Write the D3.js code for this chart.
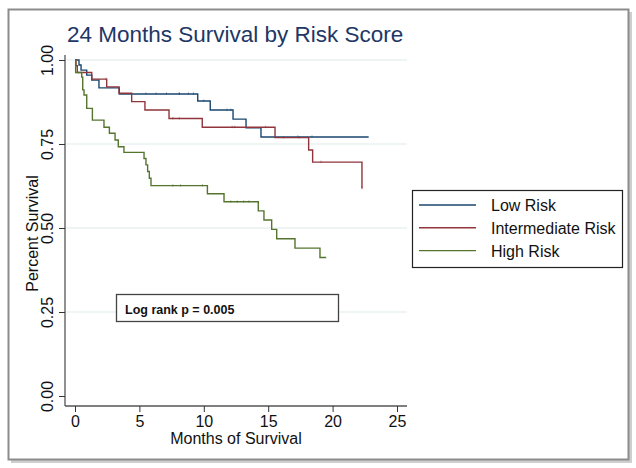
<!DOCTYPE html>
<html>
<head>
<meta charset="utf-8">
<script src="https://cdn.jsdelivr.net/npm/d3@7"></script>
<style>
  html, body { margin: 0; padding: 0; background: #fff; }
  svg { display: block; }
  text { font-family: "Liberation Sans", Arial, Helvetica, sans-serif; }
</style>
</head>
<body>
<div id="viz"></div>
<script>
// Kaplan-Meier step values
const lowTimes = [0, 0.31, 0.47, 0.91, 1.30, 1.86, 3.44, 9.53, 10.5, 12.27, 13.28, 14.44, 22.8];
const lowSurv  = [1.0, 0.985, 0.97, 0.955, 0.94, 0.917, 0.899, 0.878, 0.851, 0.824, 0.798, 0.771, 0.771];
const lowCens  = [5.5, 6.3, 7.1, 8.1, 8.8, 8.1, 9.2, 10.0, 11.8, 12.1, 17.3, 18.4];

const midTimes = [0, 0.08, 0.18, 1.30, 2.46, 3.42, 4.40, 5.43, 7.30, 9.88, 15.53, 18.14, 18.45, 22.28];
const midSurv  = [1.0, 0.983, 0.963, 0.943, 0.920, 0.901, 0.876, 0.851, 0.826, 0.800, 0.769, 0.732, 0.696, 0.618];
const midCens  = [2.4, 7.6, 8.1, 12.2, 12.4, 14.8, 16.2, 17.4, 19.1, 22.28];

const highTimes = [0, 0.05, 0.52, 0.60, 0.70, 0.91, 1.35, 2.25, 2.67, 3.11, 3.36, 3.80, 5.36, 5.51, 5.64, 5.77, 5.90, 10.28, 11.57, 14.23, 14.67, 15.27, 15.66, 17.08, 19.02, 19.5];
const highSurv  = [1.0, 0.963, 0.949, 0.911, 0.896, 0.856, 0.821, 0.800, 0.782, 0.762, 0.742, 0.725, 0.707, 0.688, 0.668, 0.648, 0.626, 0.602, 0.578, 0.551, 0.524, 0.496, 0.468, 0.440, 0.412, 0.412];
const highCens  = [7.6, 8.2, 9.9, 12.1, 12.6, 13.1, 13.5];

const seriesNames = ["Low Risk", "Intermediate Risk", "High Risk"];
const seriesColors = ["#1a476f", "#90353b", "#55752f"];

const xTicks = [0, 5, 10, 15, 20, 25];
const yTicks = [0, 0.25, 0.5, 0.75, 1.0];

const W = 636, H = 468;

const svg = d3.select('#viz').append('svg')
  .attr('width', W)
  .attr('height', H);

// outer frame with shadow
svg.append('rect').attr('x', 11).attr('y', 12).attr('width', 621).attr('height', 451).attr('fill', '#cfcfcf');
svg.append('rect').attr('x', 8.5).attr('y', 9.5).attr('width', 620).attr('height', 450)
  .attr('fill', '#fff').attr('stroke', '#8c8c8c').attr('stroke-width', 2);

const x = d3.scaleLinear().domain([0, 25]).range([75, 397]);
const y = d3.scaleLinear().domain([0, 1]).range([396, 60]);

const plotLeft = 65, plotRight = 407, plotBottom = 406, plotTop = 55;

// gridlines
svg.append('g')
  .selectAll('line')
  .data(yTicks.filter(d => d > 0))
  .join('line')
  .attr('x1', plotLeft).attr('x2', plotRight)
  .attr('y1', d => y(d)).attr('y2', d => y(d))
  .attr('stroke', '#eaf0f1').attr('stroke-width', 1.6);

// axes
const yAxis = svg.append('g')
  .attr('transform', `translate(${plotLeft},0)`)
  .call(d3.axisLeft(y).tickValues(yTicks).tickFormat(d3.format('.2f')).tickSize(6).tickPadding(4));
yAxis.select('.domain').attr('d', `M0,${plotTop}V${plotBottom}`).attr('stroke', '#555').attr('stroke-width', 1.3);
yAxis.selectAll('.tick line').attr('stroke', '#333');
yAxis.selectAll('.tick text')
  .attr('font-size', 16).attr('fill', '#111')
  .attr('transform', 'rotate(-90)')
  .attr('x', 0).attr('y', -12)
  .attr('dy', 0)
  .attr('text-anchor', 'middle');

const xAxis = svg.append('g')
  .attr('transform', `translate(0,${plotBottom})`)
  .call(d3.axisBottom(x).tickValues(xTicks).tickFormat(d3.format('d')).tickSize(6).tickPadding(4));
xAxis.select('.domain').attr('d', `M${plotLeft},0H${plotRight}`).attr('stroke', '#555').attr('stroke-width', 1.3);
xAxis.selectAll('.tick line').attr('stroke', '#333');
xAxis.selectAll('.tick text').attr('font-size', 16).attr('fill', '#111').attr('y', 21).attr('dy', 0);

// axis titles
svg.append('text')
  .attr('x', (plotLeft + plotRight) / 2).attr('y', 444)
  .attr('text-anchor', 'middle').attr('font-size', 16).attr('fill', '#111')
  .text('Months of Survival');
svg.append('text')
  .attr('transform', `translate(38,${(plotTop + plotBottom) / 2 + 3}) rotate(-90)`)
  .attr('text-anchor', 'middle').attr('font-size', 16).attr('fill', '#111')
  .text('Percent Survival');

// title
svg.append('text')
  .attr('x', 67).attr('y', 42)
  .attr('font-size', 22.5).attr('fill', '#1e3765')
  .text('24 Months Survival by Risk Score');

// curves
const series = [
  { times: lowTimes, surv: lowSurv, cens: lowCens },
  { times: midTimes, surv: midSurv, cens: midCens },
  { times: highTimes, surv: highSurv, cens: highCens }
];

const line = d3.line()
  .x(d => x(d[0]))
  .y(d => y(d[1]))
  .curve(d3.curveStepAfter);

function survAt(s, t) {
  let v = s.surv[0];
  for (let i = 0; i < s.times.length; i++) {
    if (s.times[i] <= t) v = s.surv[i];
  }
  return v;
}

series.forEach((s, i) => {
  const pts = s.times.map((t, j) => [t, s.surv[j]]);
  svg.append('path')
    .datum(pts)
    .attr('fill', 'none')
    .attr('stroke', seriesColors[i])
    .attr('stroke-width', 1.4)
    .attr('d', line);
  // censoring marks, small and faint like the original
  svg.append('g')
    .selectAll('line')
    .data(s.cens)
    .join('line')
    .attr('x1', d => x(d)).attr('x2', d => x(d))
    .attr('y1', d => y(survAt(s, d)) - 1.5).attr('y2', d => y(survAt(s, d)) + 1)
    .attr('stroke', seriesColors[i]).attr('stroke-width', 0.8).attr('stroke-opacity', 0.7);
});

// legend
const lg = svg.append('g');
lg.append('rect')
  .attr('x', 412.5).attr('y', 190.5).attr('width', 210).attr('height', 77)
  .attr('fill', '#fff').attr('stroke', '#222').attr('stroke-width', 1.2);
seriesNames.forEach((name, i) => {
  const ly = 205 + i * 22.8;
  lg.append('line')
    .attr('x1', 419).attr('x2', 476).attr('y1', ly).attr('y2', ly)
    .attr('stroke', seriesColors[i]).attr('stroke-width', 1.4);
  lg.append('text')
    .attr('x', 491).attr('y', ly + 6)
    .attr('font-size', 16).attr('fill', '#111')
    .text(name);
});

// log rank annotation
svg.append('rect')
  .attr('x', 116.5).attr('y', 294.5).attr('width', 222).attr('height', 27)
  .attr('fill', '#fff').attr('stroke', '#444').attr('stroke-width', 1.3);
svg.append('text')
  .attr('x', 125).attr('y', 314)
  .attr('font-family', 'Lato, "Open Sans", sans-serif')
  .attr('font-weight', 'bold').attr('font-size', 12.5).attr('fill', '#111')
  .text('Log rank p = 0.005');
</script>
</body>
</html>
